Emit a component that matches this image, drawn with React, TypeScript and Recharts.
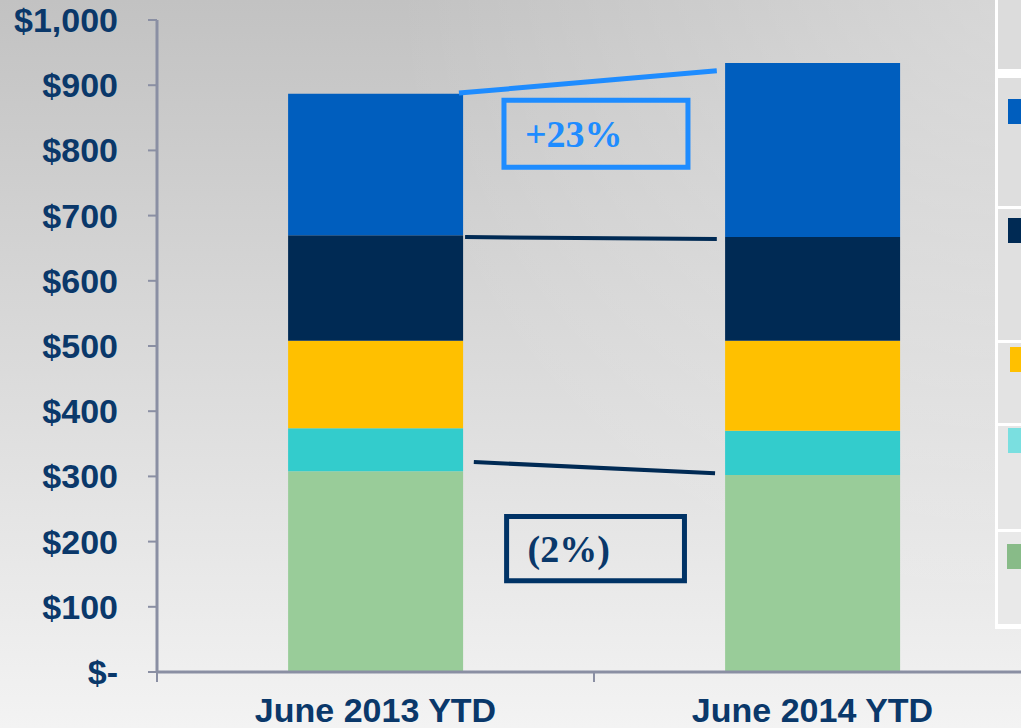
import React from "react";
import {
  BarChart,
  Bar,
  XAxis,
  YAxis,
  LineChart,
  Line,
  ReferenceArea,
} from "recharts";

// ---------- data ----------
const categories = ["June 2013 YTD", "June 2014 YTD"];
const seriesGreen = [308, 302];
const seriesCyan = [66, 68];
const seriesYellow = [134, 138];
const seriesNavy = [162, 159];
const seriesBlue = [217, 267];
const yTicks = [0, 100, 200, 300, 400, 500, 600, 700, 800, 900, 1000];

// annotation geometry in data units (x on a 0..2 axis spanning both categories)
const blueLine = [
  { x: 0.691, y: 888 },
  { x: 1.281, y: 922 },
];
const navyLine = [
  { x: 0.705, y: 667 },
  { x: 1.281, y: 664 },
];
const lowerLine = [
  { x: 0.725, y: 322 },
  { x: 1.277, y: 305 },
];
const upBox = { x1: 0.794, x2: 1.215, y1: 774, y2: 877, label: "+23%" };
const downBox = { x1: 0.8, x2: 1.207, y1: 140, y2: 238.5, label: "(2%)" };

const data = categories.map((name, i) => ({
  name,
  green: seriesGreen[i],
  cyan: seriesCyan[i],
  yellow: seriesYellow[i],
  navy: seriesNavy[i],
  blue: seriesBlue[i],
}));

// ---------- styles ----------
const C_BLUE = "#005EBE";
const C_NAVY = "#002A54";
const C_YELLOW = "#FFC000";
const C_CYAN = "#33CCCC";
const C_GREEN = "#99CC99";
const C_TEXT = "#0A386A";
const C_AXIS = "#8A8FA3";
const C_LINE_BLUE = "#1E8CFF";

const legendCells = [
  { top: -10, bottom: 69, color: null, mTop: 0, mLeft: 0, bg: "#dcdcdc" },
  { top: 78, bottom: 206, color: C_BLUE, mTop: 99, mLeft: 1008, bg: "#dedede" },
  { top: 209, bottom: 340, color: C_NAVY, mTop: 218, mLeft: 1008, bg: "#e0e0e0" },
  { top: 343, bottom: 423, color: C_YELLOW, mTop: 347, mLeft: 1010, bg: "#e3e3e3" },
  { top: 426, bottom: 529, color: "#7ADFE0", mTop: 428, mLeft: 1008, bg: "#e6e6e6" },
  { top: 532, bottom: 624, color: "#88BB88", mTop: 544, mLeft: 1007, bg: "#e9e9e9" },
];

const fmtY = (v: number) => (v === 0 ? "$-" : "$" + v.toLocaleString("en-US"));

const TICK_MARGIN = 26;

const XTick = (props: any) => {
  const { x, y, payload, width, visibleTicksCount } = props;
  const off =
    typeof payload?.offset === "number" && payload.offset > 0
      ? payload.offset
      : (width || 874) / (visibleTicksCount || 2) / 2;
  return (
    <g>
      <line
        x1={x - off}
        x2={x - off}
        y1={y - TICK_MARGIN}
        y2={y - TICK_MARGIN + 10}
        stroke={C_AXIS}
        strokeWidth={2}
      />
      <text
        x={x}
        y={y}
        dy="0.71em"
        textAnchor="middle"
        fill={C_TEXT}
        fontFamily="'Liberation Sans', Arial, sans-serif"
        fontWeight="bold"
        fontSize={34}
      >
        {payload.value}
      </text>
    </g>
  );
};

const MARGIN_TOP = 20;
const MARGIN_RIGHT = 69;
const Y_AXIS_W = 157;
const X_AXIS_H = 56;
const CHART_W = 1100;
const CHART_H = 728;

const boxLabel = (value: string, fill: string) => ({
  value,
  position: "insideLeft" as const,
  offset: 21,
  fill,
  fontSize: 38,
  fontFamily: "'Liberation Serif', 'Times New Roman', serif",
  fontWeight: "bold",
});

export default function App() {
  return (
    <div
      style={{
        position: "fixed",
        left: 0,
        top: 0,
        width: 1021,
        height: 728,
        overflow: "hidden",
        background:
          "radial-gradient(circle at 100% 0%, rgba(255,255,255,0.35), rgba(255,255,255,0) 50%), linear-gradient(to bottom, #c2c2c2 0%, #f3f3f3 100%)",
      }}
    >
      <div style={{ position: "absolute", left: 0, top: 0 }}>
        <BarChart
          width={CHART_W}
          height={CHART_H}
          data={data}
          margin={{ top: MARGIN_TOP, right: MARGIN_RIGHT, bottom: 0, left: 0 }}
          barCategoryGap="30%"
        >
          <XAxis
            dataKey="name"
            height={X_AXIS_H}
            axisLine={{ stroke: C_AXIS, strokeWidth: 3 }}
            tickLine={false}
            tickSize={0}
            tickMargin={TICK_MARGIN}
            tick={<XTick />}
            interval={0}
          />
          <YAxis
            width={Y_AXIS_W}
            domain={[0, 1000]}
            ticks={yTicks}
            interval={0}
            tickFormatter={fmtY}
            axisLine={{ stroke: C_AXIS, strokeWidth: 3 }}
            tickLine={{ stroke: C_AXIS, strokeWidth: 2 }}
            tickSize={9}
            tickMargin={30}
            tick={{
              fill: C_TEXT,
              fontFamily: "'Liberation Sans', Arial, sans-serif",
              fontWeight: "bold",
              fontSize: 34,
            }}
          />
          <Bar dataKey="green" stackId="a" fill={C_GREEN} isAnimationActive={false} />
          <Bar dataKey="cyan" stackId="a" fill={C_CYAN} isAnimationActive={false} />
          <Bar dataKey="yellow" stackId="a" fill={C_YELLOW} isAnimationActive={false} />
          <Bar dataKey="navy" stackId="a" fill={C_NAVY} isAnimationActive={false} />
          <Bar dataKey="blue" stackId="a" fill={C_BLUE} isAnimationActive={false} />
        </BarChart>
      </div>

      {/* annotation layer sharing the same plot area */}
      <div style={{ position: "absolute", left: 0, top: 0, pointerEvents: "none" }}>
        <LineChart
          width={CHART_W}
          height={CHART_H}
          margin={{ top: MARGIN_TOP, right: MARGIN_RIGHT, bottom: X_AXIS_H, left: Y_AXIS_W }}
        >
          <XAxis type="number" dataKey="x" domain={[0, 2]} allowDataOverflow hide />
          <YAxis type="number" domain={[0, 1000]} allowDataOverflow hide />
          <Line data={blueLine} dataKey="y" stroke={C_LINE_BLUE} strokeWidth={5} dot={false} activeDot={false} isAnimationActive={false} />
          <Line data={navyLine} dataKey="y" stroke={C_NAVY} strokeWidth={4} dot={false} activeDot={false} isAnimationActive={false} />
          <Line data={lowerLine} dataKey="y" stroke={C_NAVY} strokeWidth={4} dot={false} activeDot={false} isAnimationActive={false} />
          <ReferenceArea
            x1={upBox.x1}
            x2={upBox.x2}
            y1={upBox.y1}
            y2={upBox.y2}
            fill="none"
            fillOpacity={0}
            stroke={C_LINE_BLUE}
            strokeWidth={5}
            ifOverflow="visible"
            label={boxLabel(upBox.label, C_LINE_BLUE)}
          />
          <ReferenceArea
            x1={downBox.x1}
            x2={downBox.x2}
            y1={downBox.y1}
            y2={downBox.y2}
            fill="none"
            fillOpacity={0}
            stroke="#003366"
            strokeWidth={5}
            ifOverflow="visible"
            label={boxLabel(downBox.label, C_TEXT)}
          />
        </LineChart>
      </div>

      <div
        style={{
          position: "absolute",
          left: 995,
          top: -10,
          width: 80,
          height: 639,
          background: "#ffffff",
        }}
      />
      {legendCells.map((c, i) => (
        <React.Fragment key={i}>
          <div
            style={{
              position: "absolute",
              left: 998,
              top: c.top,
              width: 80,
              height: c.bottom - c.top,
              background: c.bg,
            }}
          />
          {c.color && (
            <div
              style={{
                position: "absolute",
                left: c.mLeft,
                top: c.mTop,
                width: 25,
                height: 25,
                background: c.color,
              }}
            />
          )}
        </React.Fragment>
      ))}
    </div>
  );
}
